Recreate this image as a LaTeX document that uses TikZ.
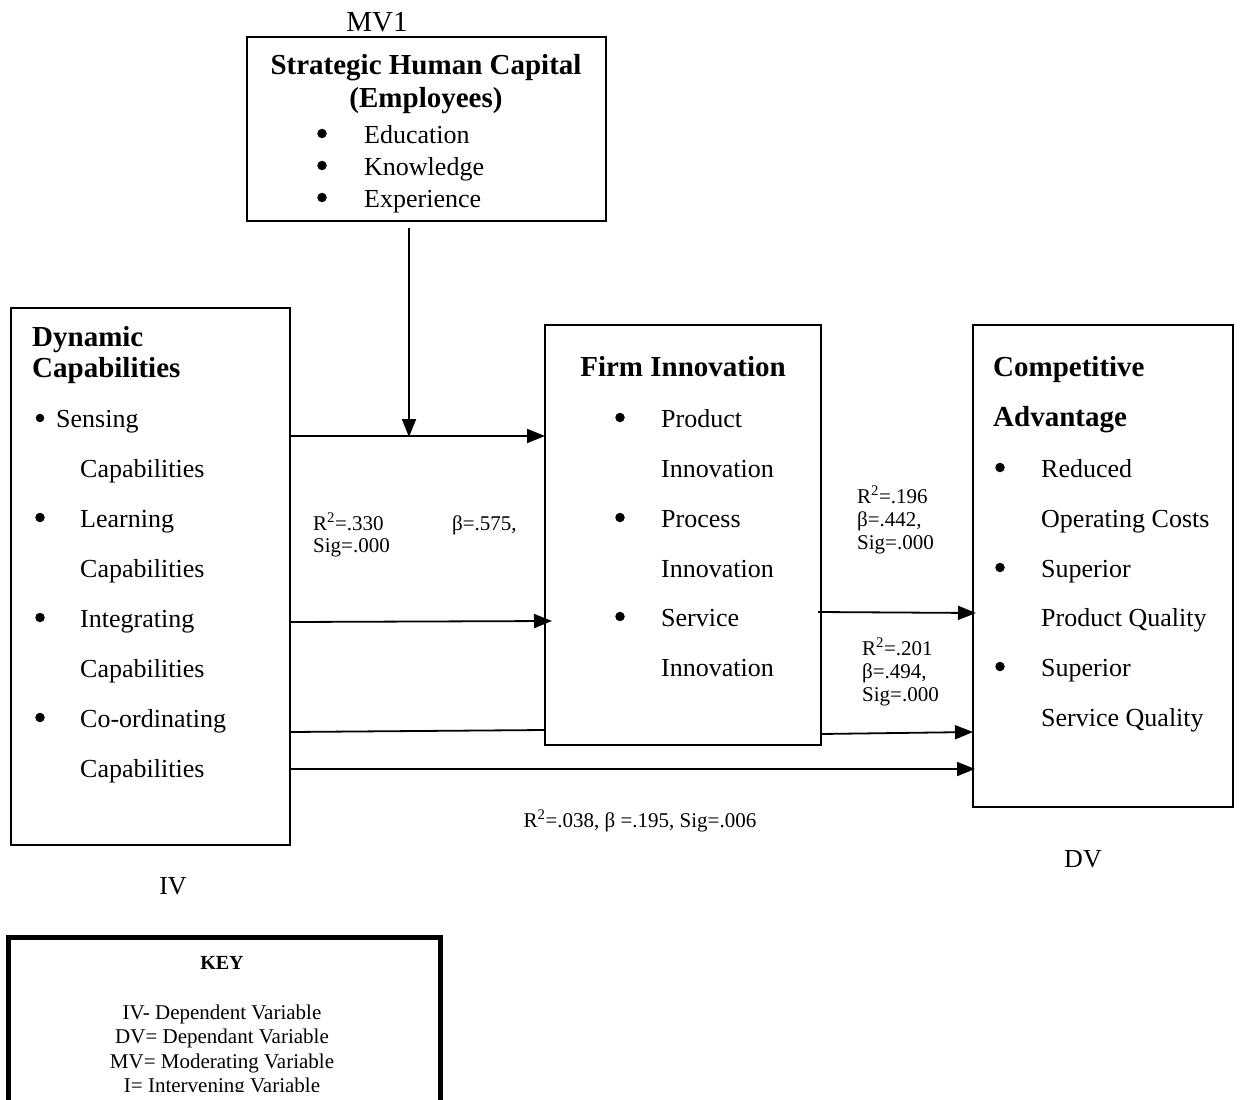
\documentclass[tikz,border=0pt]{standalone}
\usepackage{fontspec}
\setmainfont{Liberation Serif}
\usetikzlibrary{arrows.meta}
\begin{document}
\begin{tikzpicture}[x=1pt,y=-1pt,
  box/.style={draw, line width=1.8pt, inner sep=0pt, outer sep=0pt},
  arr/.style={line width=1.8pt, -{Triangle[length=18pt,width=14pt]}},
  ln/.style={line width=1.8pt},
  body/.style={font=\fontsize{26}{30}\selectfont, inner sep=0pt, anchor=base west},
  bul/.style={font=\fontsize{26}{30}\selectfont, inner sep=0pt, anchor=base},
  dot/.style={circle, fill=black, draw=none, minimum size=9.5pt, inner sep=0pt},
  head/.style={font=\bfseries\fontsize{29}{33}\selectfont, inner sep=0pt, anchor=base west},
  lab/.style={font=\fontsize{21}{24}\selectfont, inner sep=0pt, anchor=base west},
  keyt/.style={font=\fontsize{21}{24}\selectfont, inner sep=0pt, anchor=base}]
\useasboundingbox[fill=white] (0,0) rectangle (1242,1100);

% boxes
\node[box, minimum width=359pt, minimum height=184pt] (hc) at (426.5,129) {};
\node[box, minimum width=279pt, minimum height=537pt] (dc) at (150.5,576.5) {};
\node[box, minimum width=276pt, minimum height=420pt] (fi) at (683,535) {};
\node[box, minimum width=260pt, minimum height=482pt] (ca) at (1103,566) {};

% MV1 box text
\node[font=\fontsize{29}{33}\selectfont, inner sep=0pt, anchor=base] (mv) at (377,31) {MV1};
\node[head, anchor=base] (hct1) at (426,74) {Strategic Human Capital};
\node[head, anchor=base] (hct2) at (426,107) {(Employees)};
\node[dot] (hb1) at (322,133.5) {};
\node[body] (hi1) at (364,143) {Education};
\node[dot] (hb2) at (322,165.5) {};
\node[body] (hi2) at (364,175) {Knowledge};
\node[dot] (hb3) at (322,197.5) {};
\node[body] (hi3) at (364,207) {Experience};

% Dynamic capabilities
\node[head] (dct1) at (32,346) {Dynamic};
\node[head] (dct2) at (32,377) {Capabilities};
\node[dot, minimum size=8.5pt] (db1) at (40,418) {};
\node[body] (di1) at (56,427) {Sensing};
\node[body] (di2) at (80,477) {Capabilities};
\node[dot] (db3) at (40,517.5) {};
\node[body] (di3) at (80,527) {Learning};
\node[body] (di4) at (80,577) {Capabilities};
\node[dot] (db5) at (40,617.5) {};
\node[body] (di5) at (80,627) {Integrating};
\node[body] (di6) at (80,677) {Capabilities};
\node[dot] (db7) at (40,717.5) {};
\node[body] (di7) at (80,727) {Co-ordinating};
\node[body] (di8) at (80,777) {Capabilities};

% Firm innovation
\node[head, anchor=base] (fit1) at (683,376) {Firm Innovation};
\node[dot] (fb1) at (620,417.5) {};
\node[body] (fi1) at (661,427) {Product};
\node[body] (fi2) at (661,477) {Innovation};
\node[dot] (fb3) at (620,517.5) {};
\node[body] (fi3) at (661,527) {Process};
\node[body] (fi4) at (661,577) {Innovation};
\node[dot] (fb5) at (620,616.5) {};
\node[body] (fi5) at (661,626) {Service};
\node[body] (fi6) at (661,676) {Innovation};

% Competitive advantage
\node[head] (cat1) at (993,376) {Competitive};
\node[head] (cat2) at (993,426) {Advantage};
\node[dot] (cb1) at (1000,467.5) {};
\node[body] (ci1) at (1041,477) {Reduced};
\node[body] (ci2) at (1041,527) {Operating Costs};
\node[dot] (cb3) at (1000,567.5) {};
\node[body] (ci3) at (1041,577) {Superior};
\node[body] (ci4) at (1041,626) {Product Quality};
\node[dot] (cb5) at (1000,666.5) {};
\node[body] (ci5) at (1041,676) {Superior};
\node[body] (ci6) at (1041,726) {Service Quality};

% connectors
\coordinate (vtop) at (409,228);
\coordinate (mod) at (409,437);
\draw[arr] (vtop) -- (mod);
\draw[arr] (dc.east |- 0,436) -- (fi.west |- 0,436);
\coordinate (t2) at (552,621);
\draw[arr] (dc.east |- 0,622) -- (t2);
\draw[ln] (dc.east |- 0,732) -- (fi.west |- 0,730);
\draw[arr] (dc.east |- 0,769) -- ([xshift=2pt]ca.west |- 0,769);
\draw[arr] ([xshift=-3pt]fi.east |- 0,612) -- ([xshift=3pt]ca.west |- 0,613);
\draw[arr] (fi.east |- 0,734) -- (ca.west |- 0,732);

% labels
\node[lab] (l1a) at (313,530) {R\textsuperscript{2}=.330};
\node[lab] (l1b) at (452,530) {β=.575,};
\node[lab] (l1c) at (313,552) {Sig=.000};
\node[lab] (l2a) at (857,503) {R\textsuperscript{2}=.196};
\node[lab] (l2b) at (857,526) {β=.442,};
\node[lab] (l2c) at (857,549) {Sig=.000};
\node[lab] (l3a) at (862,655) {R\textsuperscript{2}=.201};
\node[lab] (l3b) at (862,678) {β=.494,};
\node[lab] (l3c) at (862,701) {Sig=.000};
\node[lab, anchor=base] (l4) at (640,827) {R\textsuperscript{2}=.038, β =.195, Sig=.006};

\node[bul] (iv) at (173,894) {IV};
\node[bul] (dv) at (1083,867) {DV};

% key
\draw[line width=5pt] (8,937) rectangle (440,1120);
\node[keyt, font=\bfseries\fontsize{20}{24}\selectfont] (key) at (222,969) {KEY};
\begin{scope}
\clip (0,0) rectangle (1242,1091);
\node[keyt] (k1) at (222,1019) {IV- Dependent Variable};
\node[keyt] (k2) at (222,1043) {DV= Dependant Variable};
\node[keyt] (k3) at (222,1068) {MV= Moderating Variable};
\node[keyt] (k4) at (222,1092) {I= Intervening Variable};
\end{scope}
\end{tikzpicture}
\end{document}
